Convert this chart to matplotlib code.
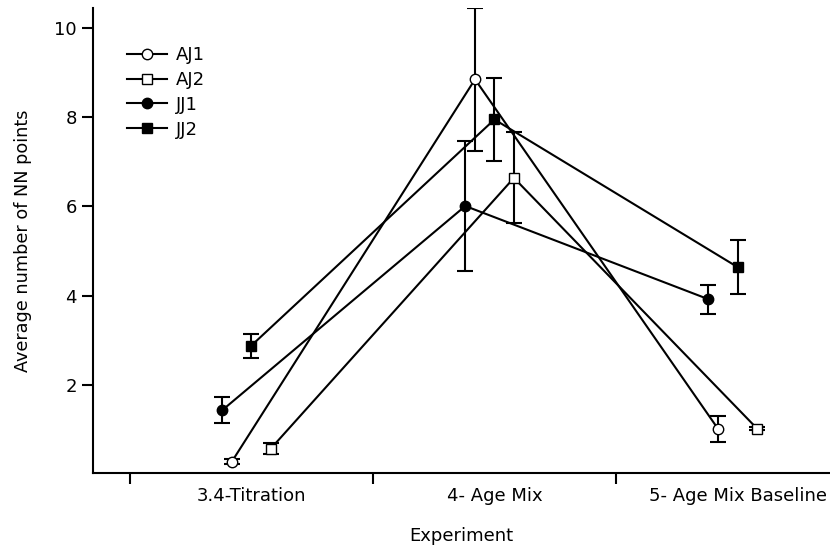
import numpy as np
import matplotlib.pyplot as plt

categories = ['3.4-Titration', '4- Age Mix', '5- Age Mix Baseline']
series = ['AJ1', 'AJ2', 'JJ1', 'JJ2']

aj1 = [0.28, 8.85, 1.01]
aj1_err = [0.06, 1.60, 0.30]
aj2 = [0.57, 6.64, 1.02]
aj2_err = [0.12, 1.02, 0.04]
jj1 = [1.43, 6.01, 3.92]
jj1_err = [0.29, 1.45, 0.33]
jj2 = [2.88, 7.95, 4.64]
jj2_err = [0.27, 0.93, 0.61]

values = [aj1, aj2, jj1, jj2]
errors = [aj1_err, aj2_err, jj1_err, jj2_err]
offsets = [-0.08, 0.08, -0.12, 0.0]
markers = ['o', 's', 'o', 's']
faces = ['white', 'white', 'black', 'black']

plt.rcParams['font.family'] = 'DejaVu Sans'
plt.rcParams['font.size'] = 13

fig = plt.figure(figsize=(8.3, 5.5), dpi=100)
ax = fig.add_axes([0.1124, 0.1405, 0.8876, 0.845])

x = np.arange(len(categories))
for name, vals, err, off, m, fc in zip(series, values, errors, offsets, markers, faces):
    xs = x + off
    ax.errorbar(xs, vals, yerr=err, fmt='none', ecolor='black', elinewidth=1.5,
                capsize=6, capthick=1.5, zorder=2)
    ax.plot(xs, vals, color='black', lw=1.5, marker=m, markersize=7.5 if m == 'o' else 7,
            markerfacecolor=fc, markeredgecolor='black', markeredgewidth=1,
            label=name, zorder=3)

ax.set_yticks([2, 4, 6, 8, 10])
ax.set_xticks(np.arange(len(categories) + 1) - 0.5)
ax.set_xticklabels([])
ax.set_xticks(x, minor=True)
ax.set_xticklabels(categories, minor=True)
ax.set_xlim(-0.65, 2.38)
ax.set_ylim(0.03, 10.45)

ax.tick_params(axis='x', which='major', direction='out', length=8, width=1.5)
ax.tick_params(axis='x', which='minor', length=0, pad=10)
ax.tick_params(axis='y', direction='out', length=8, width=1.5, pad=4)

for s in ['top', 'right']:
    ax.spines[s].set_visible(False)
for s in ['left', 'bottom']:
    ax.spines[s].set_linewidth(1.5)

ax.set_xlabel('Experiment', labelpad=16)
ax.set_ylabel('Average number of NN points', labelpad=16, fontsize=12.7)

ax.legend(loc='upper left', bbox_to_anchor=(0.046, 0.918), frameon=False,
          borderpad=0, borderaxespad=0, handlelength=2.2, handletextpad=0.5,
          labelspacing=0.38)

fig.savefig('out.png', dpi=100)
